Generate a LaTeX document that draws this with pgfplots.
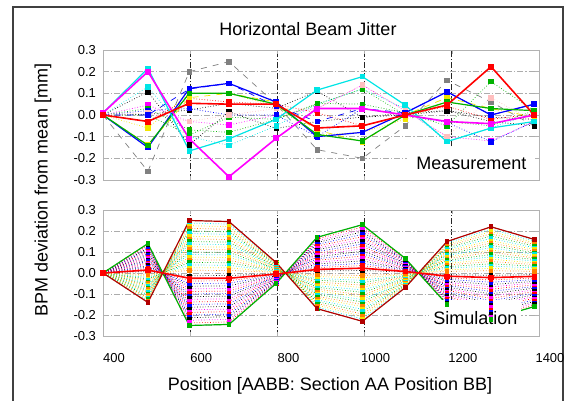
\documentclass[border=0pt]{standalone}
\usepackage{fontspec}
\setmainfont{Liberation Sans}
\usepackage{pgfplots}
\usepackage{pgfplotstable}
\pgfplotsset{compat=1.18}

\definecolor{mb}{rgb}{0,0,1}
\definecolor{mg}{rgb}{0,0.7,0}
\definecolor{mr}{rgb}{1,0,0}
\definecolor{mc}{rgb}{0,0.9,0.9}
\definecolor{mm}{rgb}{1,0,1}
\definecolor{my}{rgb}{0.95,0.9,0}

% measured BPM offsets, one column per pulse
\pgfplotstableread{
x    m1     m2     m3     m4    m5    m6    m7     m8    m9     m10    m11   m12    m13   m14    m15    m16    m17   m18
400  0.01   0      0.01   0     0     0     0      0     0      0      0     0      0     0      0      0      0     0
503  0.20   -0.03  0.215  -0.14 -0.15 -0.26 0.107  0.003 0.046  -0.06  0.13  0.03   -0.03 -0.138 0.0    0.02   0.01  0.0
598  -0.11  0.054  -0.166 0.1   0.123 0.2   -0.138 0.023 -0.03  0.1    -0.1  -0.069 0.077 0.08   -0.092 0.03   -0.03 0.12
689  -0.285 0.05   -0.11  0.1   0.146 0.246 0.015  0.054 -0.046 0.1    -0.14 -0.08  0.06  0.1    -0.01  0.0    0.0   0.146
797  -0.108 0.05   -0.02  0.05  0.06  0.05  -0.062 0.031 0.0    0.04   -0.05 -0.02  0.05  0.06   -0.02  0.0    0.03  0.04
891  0.03   -0.06  0.115  -0.09 -0.1  -0.16 -0.03  0.11  0.03   -0.092 0.05  0.054  0.01  -0.07  0.05   -0.1   0.03  -0.03
995  0.03   -0.05  0.177  -0.12 -0.08 -0.2  -0.01  -0.01 0.138  -0.08  0.12  0.05   -0.05 -0.123 0.12   0.03   0.14  0.03
1093 0.0    0.0    0.046  0.0   0.01  -0.05 0.01   0.0   0.02   -0.02  0.03  0.01   0.0   0.0    0.0    0.0    0.02  0.01
1189 -0.03  0.046  -0.123 0.06  0.107 0.16  0.02   0.02  -0.1   0.06   -0.12 -0.05  0.04  0.08   -0.03  -0.035 -0.1  0.107
1290 -0.04  0.223  -0.06  0.03  0.0   0.06  -0.03  -0.01 -0.12  0.03   -0.06 0.154  -0.02 0.03   -0.05  -0.123 0.08  0.0
1389 0.0    0.0    -0.03  0.02  0.05  -0.05 -0.05  -0.02 -0.03  -0.01  0.01  0.02   0.005 -0.01  0.02   -0.03  -0.03 0.05
}\meastab

% simulated BPM offsets, one column per pulse
\pgfplotstableread{
x p100 m100 p95 m95 p90 m90 p85 m85 p80 m80 p75 m75 p70 m70 p65 m65 p60 m60 p55 m55 p50 m50 p45 m45 p40 m40 p35 m35 p30 m30 p25 m25 p20 m20 p15 m15 p10 m10 p05 m05
400 0 0 0 0 0 0 0 0 0 0 0 0 0 0 0 0 0 0 0 0 0 0 0 0 0 0 0 0 0 0 0 0 0 0 0 0 0 0 0 0
503 0.14 -0.14 0.133 -0.133 0.126 -0.126 0.119 -0.119 0.112 -0.112 0.105 -0.105 0.098 -0.098 0.091 -0.091 0.084 -0.084 0.077 -0.077 0.07 -0.07 0.063 -0.063 0.056 -0.056 0.049 -0.049 0.042 -0.042 0.035 -0.035 0.028 -0.028 0.021 -0.021 0.014 -0.014 0.007 -0.007
598 -0.25 0.25 -0.238 0.238 -0.225 0.225 -0.213 0.213 -0.2 0.2 -0.188 0.188 -0.175 0.175 -0.163 0.163 -0.15 0.15 -0.138 0.138 -0.125 0.125 -0.113 0.113 -0.1 0.1 -0.088 0.088 -0.075 0.075 -0.063 0.063 -0.05 0.05 -0.038 0.038 -0.025 0.025 -0.013 0.013
689 -0.245 0.245 -0.233 0.233 -0.221 0.221 -0.208 0.208 -0.196 0.196 -0.184 0.184 -0.172 0.172 -0.159 0.159 -0.147 0.147 -0.135 0.135 -0.123 0.123 -0.11 0.11 -0.098 0.098 -0.086 0.086 -0.074 0.074 -0.061 0.061 -0.049 0.049 -0.037 0.037 -0.025 0.025 -0.012 0.012
797 -0.05 0.05 -0.048 0.048 -0.045 0.045 -0.043 0.043 -0.04 0.04 -0.038 0.038 -0.035 0.035 -0.033 0.033 -0.03 0.03 -0.028 0.028 -0.025 0.025 -0.023 0.023 -0.02 0.02 -0.018 0.018 -0.015 0.015 -0.013 0.013 -0.01 0.01 -0.008 0.008 -0.005 0.005 -0.003 0.003
891 0.17 -0.17 0.162 -0.162 0.153 -0.153 0.145 -0.145 0.136 -0.136 0.128 -0.128 0.119 -0.119 0.111 -0.111 0.102 -0.102 0.094 -0.094 0.085 -0.085 0.077 -0.077 0.068 -0.068 0.06 -0.06 0.051 -0.051 0.043 -0.043 0.034 -0.034 0.026 -0.026 0.017 -0.017 0.009 -0.009
995 0.23 -0.23 0.219 -0.219 0.207 -0.207 0.196 -0.196 0.184 -0.184 0.173 -0.173 0.161 -0.161 0.15 -0.15 0.138 -0.138 0.127 -0.127 0.115 -0.115 0.104 -0.104 0.092 -0.092 0.081 -0.081 0.069 -0.069 0.058 -0.058 0.046 -0.046 0.035 -0.035 0.023 -0.023 0.012 -0.012
1093 0.07 -0.07 0.067 -0.067 0.063 -0.063 0.06 -0.06 0.056 -0.056 0.053 -0.053 0.049 -0.049 0.046 -0.046 0.042 -0.042 0.039 -0.039 0.035 -0.035 0.032 -0.032 0.028 -0.028 0.025 -0.025 0.021 -0.021 0.018 -0.018 0.014 -0.014 0.011 -0.011 0.007 -0.007 0.004 -0.004
1189 -0.15 0.15 -0.143 0.143 -0.135 0.135 -0.128 0.128 -0.12 0.12 -0.113 0.113 -0.105 0.105 -0.098 0.098 -0.09 0.09 -0.083 0.083 -0.075 0.075 -0.068 0.068 -0.06 0.06 -0.053 0.053 -0.045 0.045 -0.038 0.038 -0.03 0.03 -0.023 0.023 -0.015 0.015 -0.008 0.008
1290 -0.22 0.22 -0.209 0.209 -0.198 0.198 -0.187 0.187 -0.176 0.176 -0.165 0.165 -0.154 0.154 -0.143 0.143 -0.132 0.132 -0.121 0.121 -0.11 0.11 -0.099 0.099 -0.088 0.088 -0.077 0.077 -0.066 0.066 -0.055 0.055 -0.044 0.044 -0.033 0.033 -0.022 0.022 -0.011 0.011
1389 -0.16 0.16 -0.152 0.152 -0.144 0.144 -0.136 0.136 -0.128 0.128 -0.12 0.12 -0.112 0.112 -0.104 0.104 -0.096 0.096 -0.088 0.088 -0.08 0.08 -0.072 0.072 -0.064 0.064 -0.056 0.056 -0.048 0.048 -0.04 0.04 -0.032 0.032 -0.024 0.024 -0.016 0.016 -0.008 0.008
}\simtab

\pgfplotscreateplotcyclelist{sim}{
  mb,densely dotted,mark=square*,mark options={solid}\\
  mg,densely dotted,mark=square*,mark options={solid}\\
  mr,densely dotted,mark=square*,mark options={solid}\\
  mc,densely dotted,mark=square*,mark options={solid}\\
  mm,densely dotted,mark=square*,mark options={solid}\\
  my,densely dotted,mark=square*,mark options={solid}\\
  black,densely dotted,mark=square*,mark options={solid}\\
  orange,densely dotted,mark=square*,mark options={solid}\\
}

\pgfplotsset{
  jitter/.style={
    scale only axis, width=218pt,
    xmin=400, xmax=1400, ymin=-0.3, ymax=0.3,
    xtick={600,800,1000,1200}, extra x ticks={400,1400},
    extra x tick style={grid=none},
    ytick={-0.3,-0.2,-0.1,0,0.1,0.2,0.3},
    xmajorgrids, ymajorgrids,
    x grid style={black!85, semithick, dash pattern=on 3pt off 1pt on 0.6pt off 1pt},
    y grid style={gray!65, dash pattern=on 3pt off 1pt on 0.6pt off 1pt},
    axis line style={gray!60},
    tick style={gray!60}, tick align=inside, major tick length=2pt,
    /pgf/number format/assume math mode=true,
    /pgf/number format/1000 sep={},
    tick label style={font=\fontsize{6.5}{7}\selectfont},
    y tick label style={/pgf/number format/fixed, /pgf/number format/fixed zerofill,
      /pgf/number format/precision=1},
    every axis plot/.append style={line width=0.35pt, mark size=0.9pt},
  }
}
\newcommand{\mplot}[2]{\addplot[#1, mark=square*, mark size=1.1pt, mark options={solid}] table[x=x, y=#2]{\meastab};}

\begin{document}
\begin{tikzpicture}
\useasboundingbox (0pt,0pt) rectangle (287pt,-200.5pt);
\draw[black!75, line width=0.8pt] (6.5pt,-201pt) -- (6.5pt,-3.5pt) -- (281.5pt,-3.5pt) -- (281.5pt,-201pt);

\begin{axis}[jitter, at={(51.5pt,-25pt)}, anchor=north west, height=65pt,
    xticklabels={}, extra x tick labels={}]
  \mplot{gray, dashed}{m6}
  \mplot{black, densely dotted}{m7}
  \mplot{black, densely dotted}{m8}
  \mplot{mm, densely dotted}{m9}
  \mplot{my, densely dotted}{m10}
  \mplot{mc, densely dotted}{m11}
  \mplot{mg, densely dotted}{m12}
  \mplot{mr, densely dotted}{m13}
  \mplot{my, dashed}{m14}
  \mplot{mg, densely dotted}{m15}
  \mplot{mb, densely dotted}{m16}
  \mplot{pink, densely dotted}{m17}
  \mplot{mb, dashed}{m18}
  \mplot{mb, semithick}{m5}
  \mplot{mg, semithick}{m4}
  \mplot{mc, semithick}{m3}
  \mplot{mm, thick}{m1}
  \mplot{mr, thick}{m2}
  \node[fill=white, minimum width=64pt, minimum height=16pt, inner sep=0pt,
    font=\fontsize{9}{10}\selectfont] at (axis cs:1245,-0.225) {Measurement};
\end{axis}

\begin{axis}[jitter, at={(51.5pt,-105pt)}, anchor=north west, height=63pt,
    cycle list name=sim,
    x tick label style={xshift=5.5pt, yshift=-5pt}]
  \pgfplotsinvokeforeach{1,...,40}{\addplot table[x=x, y index=#1]{\simtab};}
  \addplot[mg, semithick, mark=square*] table[x=x, y=p100]{\simtab};
  \addplot[mr!70!black, semithick, mark=square*] table[x=x, y=m100]{\simtab};
  \addplot[mr, thick, mark=square*] table[x=x, y=p10]{\simtab};
  \node[fill=white, minimum width=46pt, minimum height=18pt, inner sep=0pt,
    font=\fontsize{9}{10}\selectfont] at (axis cs:1254,-0.2136) {Simulation};
\end{axis}

\node[font=\fontsize{9}{10}\selectfont] at (154pt,-14.5pt) {Horizontal Beam Jitter};
\node[font=\fontsize{9}{10}\selectfont, rotate=90] at (21.5pt,-95pt) {BPM deviation from mean [mm]};
\node[font=\fontsize{9}{10}\selectfont] at (165pt,-193pt) {Position [AABB: Section AA Position BB]};
\end{tikzpicture}
\end{document}
